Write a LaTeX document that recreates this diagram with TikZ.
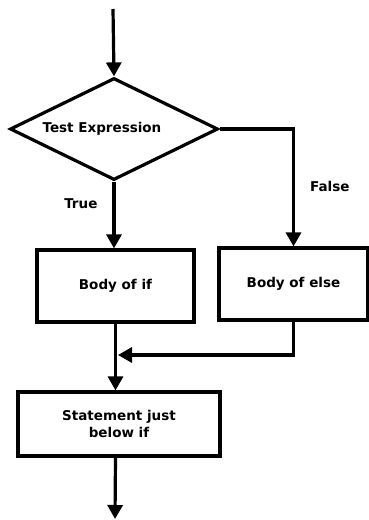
\documentclass[tikz,border=0pt]{standalone}
\usepackage{fontspec}
\setmainfont{DejaVu Sans}
\usetikzlibrary{shapes.geometric,arrows.meta}
\begin{document}
\begin{tikzpicture}[x=1pt,y=-1pt,
  every node/.style={font=\bfseries\fontsize{13.5}{16.5}\selectfont},
  line/.style={line width=3.2pt},
  flow/.style={line, -{Triangle[width=15pt,length=14pt]}},
  stepbox/.style={draw, line width=3.2pt, inner sep=0pt, align=center},
  decision/.style={draw, diamond, aspect=2, line width=3.2pt, inner sep=0pt,
    minimum width=208pt, minimum height=102pt},
  tag/.style={inner sep=0pt}]
\useasboundingbox (0,0) rectangle (369,520);

% shapes
\node[decision] (test) at (114,129) {};
\node[tag] (testtext) at (102,129) {Test Expression};
\node[stepbox, minimum width=157pt, minimum height=72pt] (ifb) at (115.5,286) {Body of if};
\node[stepbox, minimum width=149pt, minimum height=72pt] (elseb) at (293.5,284) {Body of else};
\node[stepbox, minimum width=202pt, minimum height=64pt] (stmt) at (119,424) {Statement just\\below if};

% free ends and the join point
\coordinate (start) at (113,9);
\coordinate (finish) at (115,519);
\coordinate (join) at (118,355);

% connectors
\draw[flow] (start) -- (test.north);
\draw[flow] (test.south) -- (test.south |- ifb.north)
  node[tag, pos=0.33, left=15pt] (truelbl) {True};
\draw[flow] (test.east) -| (elseb.north)
  node[tag, pos=0.745, right=15pt] (falselbl) {False};
\draw[flow] (ifb.south) -- (ifb.south |- stmt.north);
\draw[flow] (elseb.south) |- (join);
\draw[flow] (stmt.south -| ifb.south) -- (finish);
\end{tikzpicture}
\end{document}
